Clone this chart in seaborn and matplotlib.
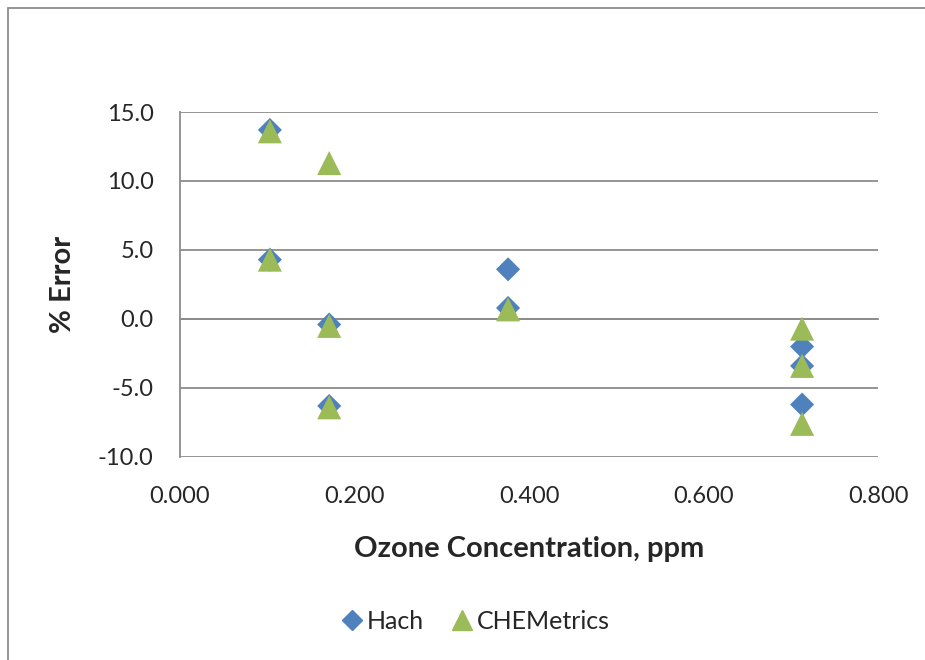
import pandas as pd
import matplotlib.pyplot as plt
import seaborn as sns
from matplotlib.patches import Rectangle

# values
hach_x = [0.103, 0.103, 0.171, 0.171, 0.376, 0.376, 0.713, 0.713, 0.713]
hach_y = [13.7, 4.3, -0.4, -6.3, 3.6, 0.8, -2.0, -3.4, -6.2]
chem_x = [0.103, 0.103, 0.171, 0.171, 0.171, 0.376, 0.713, 0.713, 0.713]
chem_y = [13.6, 4.3, 11.3, -0.5, -6.4, 0.7, -0.7, -3.4, -7.6]

df = pd.DataFrame({
    "conc": hach_x + chem_x,
    "err": hach_y + chem_y,
    "method": ["Hach"] * len(hach_x) + ["CHEMetrics"] * len(chem_x),
})

sns.set_style("white")
plt.rcParams["font.family"] = ["Lato", "DejaVu Sans"]

fig = plt.figure(figsize=(9.25, 6.6), dpi=100)
ax = fig.add_axes([0.1946, 0.3076, 0.7546, 0.5227])

grid_c = "#8c8c8c"
sns.scatterplot(data=df, x="conc", y="err", hue="method", style="method",
                palette={"Hach": "#4F81BD", "CHEMetrics": "#9BBB59"},
                markers={"Hach": "D", "CHEMetrics": "^"},
                size="method", sizes={"Hach": 150, "CHEMetrics": 300},
                linewidth=0, ax=ax, zorder=3, clip_on=False, legend=False)

ax.set_xlim(0, 0.8)
ax.set_ylim(-10, 15)
ax.set_yticks([-10, -5, 0, 5, 10, 15])
ax.set_xticks([0, 0.2, 0.4, 0.6, 0.8])
ax.yaxis.grid(True, color=grid_c, lw=1.3)
ax.set_axisbelow(True)

for s in ["top", "right"]:
    ax.spines[s].set_visible(False)
ax.spines["left"].set_color(grid_c)
ax.spines["left"].set_linewidth(1.3)
ax.spines["bottom"].set_position(("data", 0))
ax.spines["bottom"].set_color(grid_c)
ax.spines["bottom"].set_linewidth(1.3)
ax.tick_params(axis="x", direction="out", length=7, color=grid_c, width=1.3,
               labelbottom=False)
ax.tick_params(axis="y", direction="out", length=7, color=grid_c, width=1.3,
               labelsize=17, pad=12)
ax.set_yticklabels([f"{v:.1f}" for v in [-10, -5, 0, 5, 10, 15]])

sec = ax.secondary_xaxis(0)
sec.set_xticks([0, 0.2, 0.4, 0.6, 0.8])
sec.set_xticklabels([f"{v:.3f}" for v in [0, 0.2, 0.4, 0.6, 0.8]])
sec.tick_params(length=0, labelsize=17, pad=21)
sec.spines["bottom"].set_visible(False)

ax.set_xlabel("")
ax.set_ylabel("% Error", fontsize=21, fontweight="bold", labelpad=16)
sec.set_xlabel("Ozone Concentration, ppm", fontsize=21, fontweight="bold",
               labelpad=21)

h1 = plt.Line2D([], [], marker="D", color="#4F81BD", ls="", markersize=10)
h2 = plt.Line2D([], [], marker="^", color="#9BBB59", ls="", markersize=15)
fig.legend([h1, h2], ["Hach", "CHEMetrics"], loc="center",
           bbox_to_anchor=(0.513, 0.059), ncol=2, frameon=False, fontsize=18,
           handletextpad=0.1, columnspacing=1.0, handlelength=1.0)

fig.patches.append(Rectangle((8 / 925, -0.05), 1.1, 1.05 - 8 / 660,
                             transform=fig.transFigure, fill=False,
                             edgecolor="#8c8c8c", lw=1.3))

fig.savefig("out.png", dpi=100)
